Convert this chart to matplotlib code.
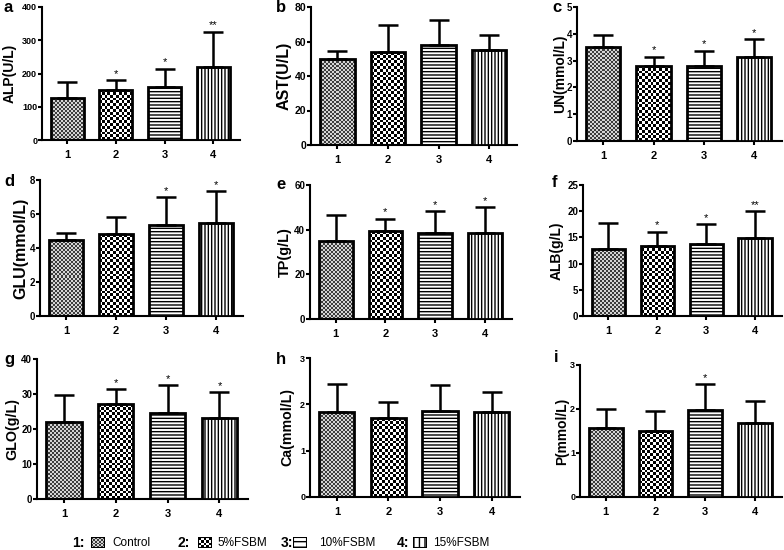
import numpy as np
import matplotlib
matplotlib.use("Agg")
import matplotlib.pyplot as plt
from matplotlib.colors import ListedColormap
from matplotlib.patches import Rectangle

plt.rcParams['font.family'] = ['Liberation Sans', 'DejaVu Sans']
plt.rcParams['hatch.linewidth'] = 1.0

W, H = 784, 550

groups = ['1', '2', '3', '4']
legend_names = ['Control', '5%FSBM', '10%FSBM', '15%FSBM']

panel_letters = ['a', 'b', 'c', 'd', 'e', 'f', 'g', 'h', 'i']
ylabels = ['ALP(U/L)', 'AST(U/L)', 'UN(mmol/L)', 'GLU(mmol/L)', 'TP(g/L)',
           'ALB(g/L)', 'GLO(g/L)', 'Ca(mmol/L)', 'P(mmol/L)']

alp_mean = [125, 151, 158, 221]
alp_sd = [48, 28, 57, 105]
ast_mean = [49.8, 53.9, 58.1, 54.8]
ast_sd = [4.7, 15.9, 14.2, 8.8]
un_mean = [3.50, 2.81, 2.81, 3.15]
un_sd = [0.46, 0.34, 0.56, 0.65]
glu_mean = [4.50, 4.81, 5.36, 5.46]
glu_sd = [0.41, 1.04, 1.63, 1.87]
tp_mean = [34.8, 39.3, 38.7, 38.4]
tp_sd = [11.6, 5.6, 9.5, 11.6]
alb_mean = [12.8, 13.4, 13.7, 14.9]
alb_sd = [5.0, 2.7, 3.8, 5.1]
glo_mean = [21.9, 27.1, 24.5, 23.1]
glo_sd = [7.8, 4.3, 8.0, 7.4]
ca_mean = [1.84, 1.70, 1.85, 1.83]
ca_sd = [0.59, 0.34, 0.57, 0.43]
p_mean = [1.57, 1.50, 1.97, 1.69]
p_sd = [0.44, 0.45, 0.59, 0.50]

alp_stars = ['', '*', '*', '**']
ast_stars = ['', '', '', '']
un_stars = ['', '*', '*', '*']
glu_stars = ['', '', '*', '*']
tp_stars = ['', '*', '*', '*']
alb_stars = ['', '*', '*', '**']
glo_stars = ['', '*', '*', '*']
ca_stars = ['', '', '', '']
p_stars = ['', '', '*', '']

y_max = [400, 80, 5, 8, 60, 25, 40, 3, 3]
y_step = [100, 20, 1, 2, 20, 5, 10, 1, 1]

means = [alp_mean, ast_mean, un_mean, glu_mean, tp_mean, alb_mean, glo_mean, ca_mean, p_mean]
sds = [alp_sd, ast_sd, un_sd, glu_sd, tp_sd, alb_sd, glo_sd, ca_sd, p_sd]
stars = [alp_stars, ast_stars, un_stars, glu_stars, tp_stars, alb_stars, glo_stars, ca_stars, p_stars]

# axes boxes in pixels: left, top, right, bottom
boxes = [(42, 7, 240, 140), (311, 7, 517, 145), (577, 7, 782, 141),
         (40, 180, 243, 316), (310, 185, 512, 319), (583, 185, 782, 316),
         (37, 359, 248, 499), (310, 358, 520, 497), (580, 365, 782, 497)]
letter_pos = [(3, 0), (276, 0), (552, 0), (4, 174), (276, 177), (552, 175),
              (4, 352), (276, 352), (554, 350)]
# y label centre (pixels) and size per panel
ylabel_x = [10, 284, 560, 21, 285, 557, 12, 287, 562]
ylabel_size = [10, 11.5, 10, 11.5, 10.4, 10, 10.3, 10.2, 9.9]
ytick_size = [6.5, 7.5, 7, 7, 7, 7, 7, 6.5, 6.5]

checker_style = [(2.0, ['#d4d4d4', '#3c3c3c']), (2.8, ['white', 'black'])]
hatches = [None, None, '-----', '|||||']

fig = plt.figure(figsize=(W / 100, H / 100), dpi=100)


def px_axes(l, t, r, b):
    return fig.add_axes([l / W, 1 - b / H, (r - l) / W, (b - t) / H])


def fill_checker(ax, bar, cell, colors):
    x0, y0 = bar.get_x(), bar.get_y()
    w, h = bar.get_width(), bar.get_height()
    (px0, py0), (px1, py1) = ax.transData.transform([(x0, y0), (x0 + w, y0 + h)])
    nx = max(1, int(round(abs(px1 - px0) / cell)))
    ny = max(1, int(round(abs(py1 - py0) / cell)))
    img = np.indices((ny, nx)).sum(axis=0) % 2
    im = ax.imshow(img, extent=(x0, x0 + w, y0, y0 + h), origin='lower',
                   aspect='auto', interpolation='nearest',
                   cmap=ListedColormap(colors), vmin=0, vmax=1, zorder=2)
    im.set_clip_path(bar)


x = np.arange(1, 5)
xlim = (0.48, 4.55)
for i in range(9):
    l, t, r, b = boxes[i]
    ax = px_axes(l, t, r, b)
    ax.set_xlim(*xlim)
    ax.set_ylim(0, y_max[i])
    bars = ax.bar(x, means[i], width=0.68, edgecolor='black', linewidth=2, zorder=3)
    for k, bar in enumerate(bars):
        if k < 2:
            bar.set_facecolor('none')
            fill_checker(ax, bar, *checker_style[k])
        else:
            bar.set_facecolor('white')
            bar.set_hatch(hatches[k])
    ax.set_xlim(*xlim)
    ax.set_ylim(0, y_max[i])
    ax.errorbar(x, means[i], yerr=[np.zeros(4), sds[i]], fmt='none', ecolor='black',
                elinewidth=1.8, capsize=7, capthick=1.8, zorder=4)
    for xi, m, s, st in zip(x, means[i], sds[i], stars[i]):
        if st:
            ax.annotate(st, (xi, m + s), xytext=(0, 1), textcoords='offset points',
                        ha='center', va='bottom', fontsize=8)
    ax.set_yticks(np.arange(0, y_max[i] + y_step[i] / 2, y_step[i]))
    ax.set_xticks(x)
    ax.set_xticklabels(groups, fontsize=8, fontweight='bold')
    for lab in ax.get_yticklabels():
        lab.set_fontsize(ytick_size[i])
        lab.set_fontweight('bold')
    ax.spines['top'].set_visible(False)
    ax.spines['right'].set_visible(False)
    ax.spines['left'].set_linewidth(1.5)
    ax.spines['bottom'].set_linewidth(1.5)
    ax.tick_params(direction='out', length=3, width=1.5)
    ax.tick_params(axis='y', pad=0.5)
    ax.tick_params(axis='x', pad=4)
    ax.set_ylabel(ylabels[i], fontsize=ylabel_size[i], fontweight='bold')
    ax.yaxis.set_label_coords((ylabel_x[i] - l) / (r - l), 0.5)
    ax.yaxis.label.set_verticalalignment('center')
    lx, ly = letter_pos[i]
    fig.text(lx / W, 1 - ly / H, panel_letters[i], fontsize=12, fontweight='bold',
             ha='left', va='top')

# legend row
num_x = [72, 177, 281, 397]
icon_x = [91, 198, 293, 413]
name_x = [112, 217, 319, 433]
leg_y = 543
for k in range(4):
    fig.text(num_x[k] / W, 1 - leg_y / H, groups[k] + ':', fontsize=10,
             fontweight='bold', ha='left', va='center')
    fig.text(name_x[k] / W, 1 - leg_y / H, legend_names[k], fontsize=8.5,
             ha='left', va='center')
    iax = px_axes(icon_x[k], leg_y - 6, icon_x[k] + 14, leg_y + 5)
    iax.set_axis_off()
    iax.set_xlim(0, 1)
    iax.set_ylim(0, 1)
    if k < 2:
        patch = Rectangle((0, 0), 1, 1, facecolor='none', edgecolor='black',
                          linewidth=1.5, zorder=3)
        iax.add_patch(patch)
        fill_checker(iax, patch, *checker_style[k])
    else:
        patch = Rectangle((0, 0), 1, 1, facecolor='white', edgecolor='black',
                          linewidth=1.5, hatch=hatches[k][:3], zorder=3)
        iax.add_patch(patch)
    iax.set_xlim(0, 1)
    iax.set_ylim(0, 1)

fig.savefig('out.png', dpi=100)
